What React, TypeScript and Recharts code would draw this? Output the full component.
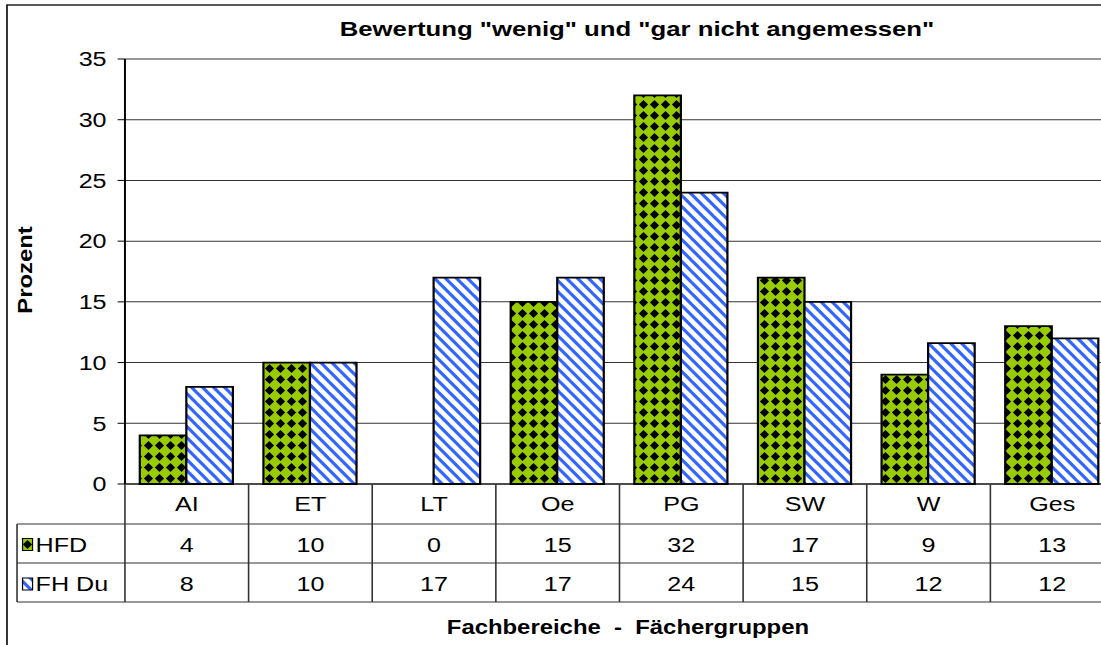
import React from "react";
import { BarChart, Bar, XAxis, YAxis, CartesianGrid } from "recharts";

// chart values
const categories = ["AI", "ET", "LT", "Oe", "PG", "SW", "W", "Ges"];
const hfd = [4, 10, 0, 15, 32, 17, 9, 13];
const fhDu = [8, 10, 17, 17, 24, 15, 11.6, 12];
const yTicks = [0, 5, 10, 15, 20, 25, 30, 35];
const seriesNames = ["HFD", "FH Du"];
const title = 'Bewertung "wenig" und "gar nicht angemessen"';
const xTitle = "Fachbereiche  -  Fächergruppen";
const yTitle = "Prozent";

const data = categories.map((c, i) => ({ cat: c, hfd: hfd[i], fhDu: fhDu[i] }));

// the original looks horizontally stretched, so the whole chart is drawn narrower and scaled in x
const SX = 1.225;
const W0 = 925;
const H0 = 660;
const PLOT_L = 102;
const PLOT_R = 909.4;
const PLOT_TOP = 59;
const PLOT_BOTTOM = 484;
const ROW_LINES = [524, 563, 602];
const ROW_TEXT = [504, 544.5, 584];
const LEGEND_L = 13.9;
const BAND = (PLOT_R - PLOT_L) / categories.length;
const FONT = '"Liberation Sans", Arial, sans-serif';
const LINE = "#333";

// pattern tile: 11px square on screen
const P = 11;
const PX = P / SX;
const STRIPE = 4.6;
const DIA = 4.6;

const textStyle = { fontFamily: FONT, fontSize: 20.5, fill: "#000" };

function TableTick(props: any) {
  const { x, payload } = props;
  const i = props.index ?? payload.index;
  const left = x - BAND / 2;
  const right = x + BAND / 2;
  const rows = [categories[i], String(Math.round(hfd[i])), String(Math.round(fhDu[i]))];
  return (
    <g>
      {rows.map((r, k) => (
        <text key={k} x={x} y={ROW_TEXT[k]} dy="0.355em" textAnchor="middle" style={textStyle}>
          {r}
        </text>
      ))}
      {ROW_LINES.map((ly) => (
        <line key={ly} x1={left} x2={right} y1={ly} y2={ly} stroke={LINE} strokeWidth={1} />
      ))}
      <line x1={right} x2={right} y1={PLOT_BOTTOM} y2={ROW_LINES[2]} stroke={LINE} strokeWidth={1.3} />
      {i === 0 && (
        <line x1={left} x2={left} y1={PLOT_BOTTOM} y2={ROW_LINES[2]} stroke={LINE} strokeWidth={1.3} />
      )}
    </g>
  );
}

export default function App() {
  const swatchW = 10 / SX;
  return (
    <div
      style={{
        position: "fixed",
        left: 0,
        top: 0,
        width: 1101,
        height: 645,
        overflow: "hidden",
        background: "#fff",
        fontFamily: FONT,
      }}
    >
      <div style={{ transform: `scaleX(${SX})`, transformOrigin: "0 0", width: W0, height: H0 }}>
        <BarChart
          width={W0}
          height={H0}
          data={data}
          margin={{ top: PLOT_TOP, right: W0 - PLOT_R, bottom: H0 - PLOT_BOTTOM - 118, left: 0 }}
          barCategoryGap="12%"
          barGap={0}
        >
          <defs>
            <pattern id="patHFD" patternUnits="userSpaceOnUse" width={PX} height={P}>
              <rect x={0} y={0} width={PX} height={P} fill="#99CC00" />
              <polygon
                points={`${PX / 2},${P / 2 - DIA} ${PX / 2 + DIA / SX},${P / 2} ${PX / 2},${P / 2 + DIA} ${PX / 2 - DIA / SX},${P / 2}`}
                fill="#000"
              />
            </pattern>
            <pattern id="patFH" patternUnits="userSpaceOnUse" width={PX} height={P}>
              <rect x={0} y={0} width={PX} height={P} fill="#fff" />
              <polygon points={`0,0 ${STRIPE / SX},0 ${PX},${P - STRIPE} ${PX},${P}`} fill="#3366FF" />
              <polygon points={`0,${P - STRIPE} 0,${P} ${STRIPE / SX},${P}`} fill="#3366FF" />
            </pattern>
          </defs>

          {/* outer frame */}
          <rect x={5.7} y={5} width={W0} height={H0} fill="none" stroke="#000" strokeWidth={1.3} />

          <text x={520} y={36} textAnchor="middle" style={{ ...textStyle, fontSize: 21, fontWeight: "bold" }}>
            {title}
          </text>
          <text
            x={512.6}
            y={634}
            textAnchor="middle"
            style={{ ...textStyle, fontSize: 19.5, fontWeight: "bold", whiteSpace: "pre" }}
          >
            {xTitle}
          </text>
          <text
            transform={`matrix(0,${-SX},${1 / SX},0,20.4,270)`}
            textAnchor="middle"
            dominantBaseline="central"
            style={{ ...textStyle, fontSize: 19.5, fontWeight: "bold" }}
          >
            {yTitle}
          </text>

          {/* legend column of the data table */}
          <g>
            <line x1={LEGEND_L} x2={PLOT_L} y1={ROW_LINES[0]} y2={ROW_LINES[0]} stroke={LINE} />
            <line x1={LEGEND_L} x2={PLOT_L} y1={ROW_LINES[1]} y2={ROW_LINES[1]} stroke={LINE} />
            <line x1={LEGEND_L} x2={PLOT_L} y1={ROW_LINES[2]} y2={ROW_LINES[2]} stroke={LINE} />
            <line x1={LEGEND_L} x2={LEGEND_L} y1={ROW_LINES[0]} y2={ROW_LINES[2]} stroke={LINE} strokeWidth={1.3} />
            {seriesNames.map((s, k) => (
              <g key={s}>
                <rect
                  x={LEGEND_L + 4.5}
                  y={ROW_TEXT[k + 1] - 6}
                  width={swatchW}
                  height={12}
                  fill={k === 0 ? "url(#patHFD)" : "url(#patFH)"}
                  stroke="#000"
                  strokeWidth={1}
                />
                <text x={LEGEND_L + 4.5 + swatchW + 2.5} y={ROW_TEXT[k + 1]} dy="0.355em" style={textStyle}>
                  {s}
                </text>
              </g>
            ))}
          </g>

          <CartesianGrid vertical={false} stroke={LINE} strokeWidth={1} />
          <YAxis
            domain={[0, 35]}
            ticks={yTicks}
            interval={0}
            width={PLOT_L}
            tickSize={6}
            tickMargin={9}
            axisLine={{ stroke: "#000", strokeWidth: 1.6 }}
            tickLine={{ stroke: "#000" }}
            tick={{ fill: "#000", fontSize: 20.5, fontFamily: FONT }}
          />
          <XAxis
            dataKey="cat"
            height={118}
            interval={0}
            tickLine={false}
            axisLine={{ stroke: "#000" }}
            tick={(p: any) => <TableTick {...p} />}
          />
          <Bar
            dataKey="hfd"
            name={seriesNames[0]}
            fill="url(#patHFD)"
            stroke="#000"
            strokeWidth={1.8}
            isAnimationActive={false}
          />
          <Bar
            dataKey="fhDu"
            name={seriesNames[1]}
            fill="url(#patFH)"
            stroke="#000"
            strokeWidth={1.8}
            isAnimationActive={false}
          />
        </BarChart>
      </div>
    </div>
  );
}
